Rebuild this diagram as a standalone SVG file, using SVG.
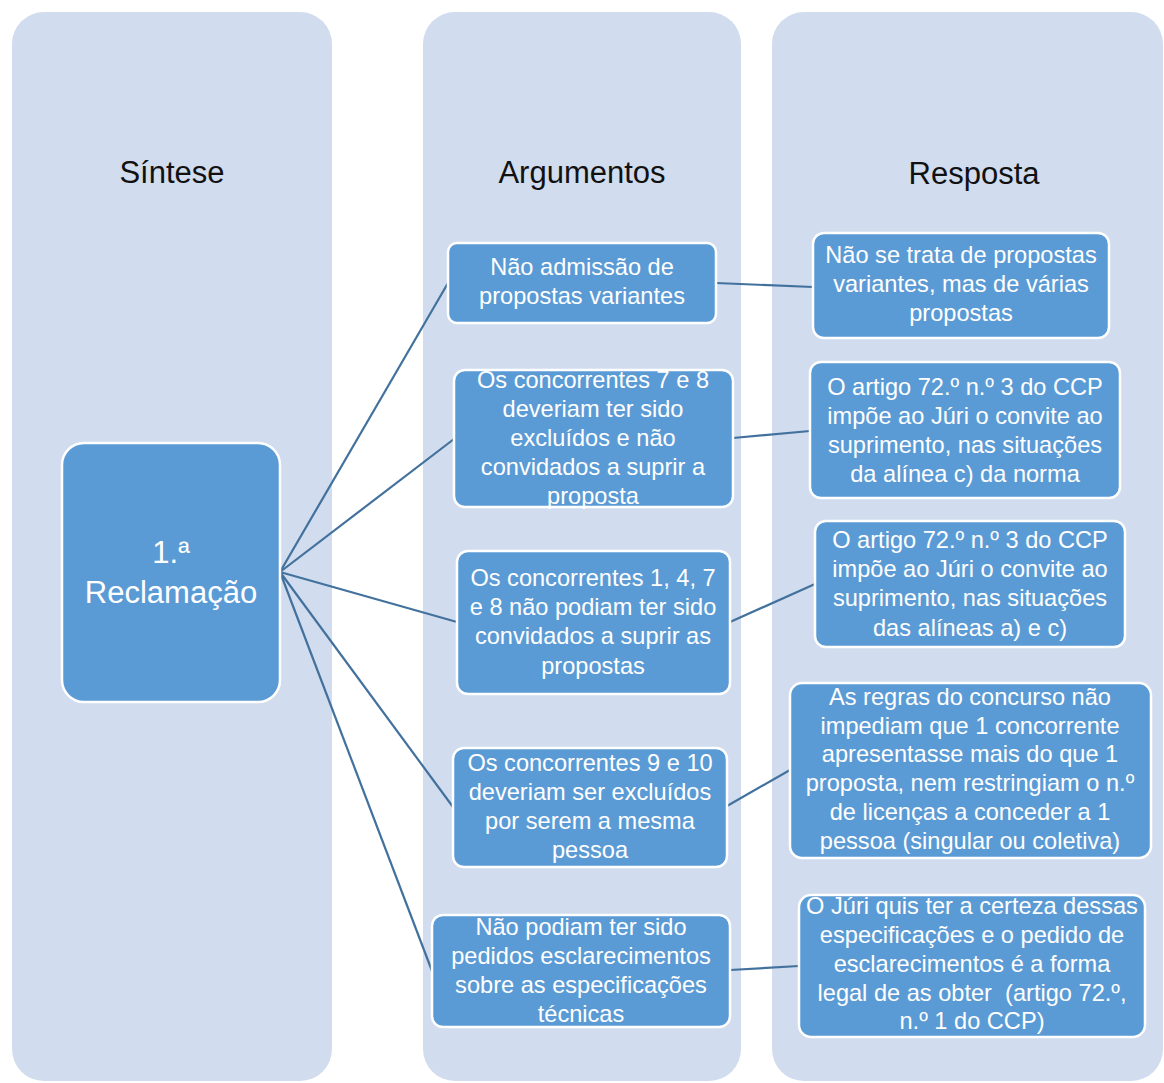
<svg xmlns="http://www.w3.org/2000/svg" width="1164" height="1083" viewBox="0 0 1164 1083">
<style>
.col{fill:#D1DCEE}
.hdr{font-family:"Liberation Sans",Arial,sans-serif;font-size:31px;fill:#111;text-anchor:middle}
.box{fill:#5B9BD5;stroke:#fff;stroke-width:2.5}
.t{font-family:"Liberation Sans",Arial,sans-serif;font-size:23.6px;fill:#fff;text-anchor:middle}
.big{font-family:"Liberation Sans",Arial,sans-serif;font-size:31px;fill:#fff;text-anchor:middle}
.ln{stroke:#41719C;stroke-width:2.2;fill:none}
</style>
<rect width="1164" height="1083" fill="#fff"/>
<g id="col-sintese"><rect class="col" x="12" y="12" width="320" height="1069" rx="32"/><text class="hdr" x="172" y="183">Síntese</text></g>
<g id="col-argumentos"><rect class="col" x="423" y="12" width="318" height="1069" rx="32"/><text class="hdr" x="582" y="183">Argumentos</text></g>
<g id="col-resposta"><rect class="col" x="772" y="12" width="391" height="1069" rx="32"/><text class="hdr" x="974" y="184">Resposta</text></g>
<g id="connectors">
<line class="ln" x1="280" y1="572" x2="448" y2="283"/>
<line class="ln" x1="280" y1="572" x2="454" y2="439"/>
<line class="ln" x1="280" y1="572" x2="457" y2="622"/>
<line class="ln" x1="280" y1="572" x2="453" y2="807"/>
<line class="ln" x1="280" y1="572" x2="432" y2="971"/>
<line class="ln" x1="716" y1="283" x2="813" y2="287"/>
<line class="ln" x1="733" y1="438" x2="810" y2="431"/>
<line class="ln" x1="730" y1="622" x2="815" y2="584"/>
<line class="ln" x1="727" y1="806" x2="790" y2="770"/>
<line class="ln" x1="730" y1="970" x2="799" y2="966"/>
</g>
<g id="n-reclamacao"><rect class="box" x="62" y="443" width="218" height="259" rx="22"/><text class="big" x="171" y="563">1.ª</text><text class="big" x="171" y="603">Reclamação</text></g>
<g id="a1"><rect class="box" x="448" y="243" width="268" height="80" rx="9"/><text class="t" x="582" y="275">Não admissão de</text><text class="t" x="582" y="304">propostas variantes</text></g>
<g id="a2"><rect class="box" x="454" y="370" width="279" height="137" rx="11"/><text class="t" x="593" y="388">Os concorrentes 7 e 8</text><text class="t" x="593" y="417">deveriam ter sido</text><text class="t" x="593" y="446">excluídos e não</text><text class="t" x="593" y="475">convidados a suprir a</text><text class="t" x="593" y="504">proposta</text></g>
<g id="a3"><rect class="box" x="457" y="551" width="273" height="143" rx="11"/><text class="t" x="593" y="586">Os concorrentes 1, 4, 7</text><text class="t" x="593" y="615">e 8 não podiam ter sido</text><text class="t" x="593" y="644">convidados a suprir as</text><text class="t" x="593" y="674">propostas</text></g>
<g id="a4"><rect class="box" x="453" y="748" width="274" height="119" rx="11"/><text class="t" x="590" y="771">Os concorrentes 9 e 10</text><text class="t" x="590" y="800">deveriam ser excluídos</text><text class="t" x="590" y="829">por serem a mesma</text><text class="t" x="590" y="858">pessoa</text></g>
<g id="a5"><rect class="box" x="432" y="915" width="298" height="112" rx="11"/><text class="t" x="581" y="935">Não podiam ter sido</text><text class="t" x="581" y="964">pedidos esclarecimentos</text><text class="t" x="581" y="993">sobre as especificações</text><text class="t" x="581" y="1022">técnicas</text></g>
<g id="r1"><rect class="box" x="813" y="233" width="296" height="105" rx="11"/><text class="t" x="961" y="263">Não se trata de propostas</text><text class="t" x="961" y="292">variantes, mas de várias</text><text class="t" x="961" y="321">propostas</text></g>
<g id="r2"><rect class="box" x="810" y="362" width="310" height="136" rx="11"/><text class="t" x="965" y="395">O artigo 72.º n.º 3 do CCP</text><text class="t" x="965" y="424">impõe ao Júri o convite ao</text><text class="t" x="965" y="453">suprimento, nas situações</text><text class="t" x="965" y="482">da alínea c) da norma</text></g>
<g id="r3"><rect class="box" x="815" y="521" width="310" height="126" rx="11"/><text class="t" x="970" y="548">O artigo 72.º n.º 3 do CCP</text><text class="t" x="970" y="577">impõe ao Júri o convite ao</text><text class="t" x="970" y="606">suprimento, nas situações</text><text class="t" x="970" y="636">das alíneas a) e c)</text></g>
<g id="r4"><rect class="box" x="790" y="683" width="361" height="175" rx="12"/><text class="t" x="970" y="705">As regras do concurso não</text><text class="t" x="970" y="734">impediam que 1 concorrente</text><text class="t" x="970" y="762">apresentasse mais do que 1</text><text class="t" x="970" y="791">proposta, nem restringiam o n.º</text><text class="t" x="970" y="820">de licenças a conceder a 1</text><text class="t" x="970" y="849">pessoa (singular ou coletiva)</text></g>
<g id="r5"><rect class="box" x="799" y="895" width="346" height="142" rx="12"/><text class="t" x="972" y="914">O Júri quis ter a certeza dessas</text><text class="t" x="972" y="943">especificações e o pedido de</text><text class="t" x="972" y="972">esclarecimentos é a forma</text><text class="t" x="972" y="1001" xml:space="preserve">legal de as obter  (artigo 72.º,</text><text class="t" x="972" y="1029">n.º 1 do CCP)</text></g>
</svg>
